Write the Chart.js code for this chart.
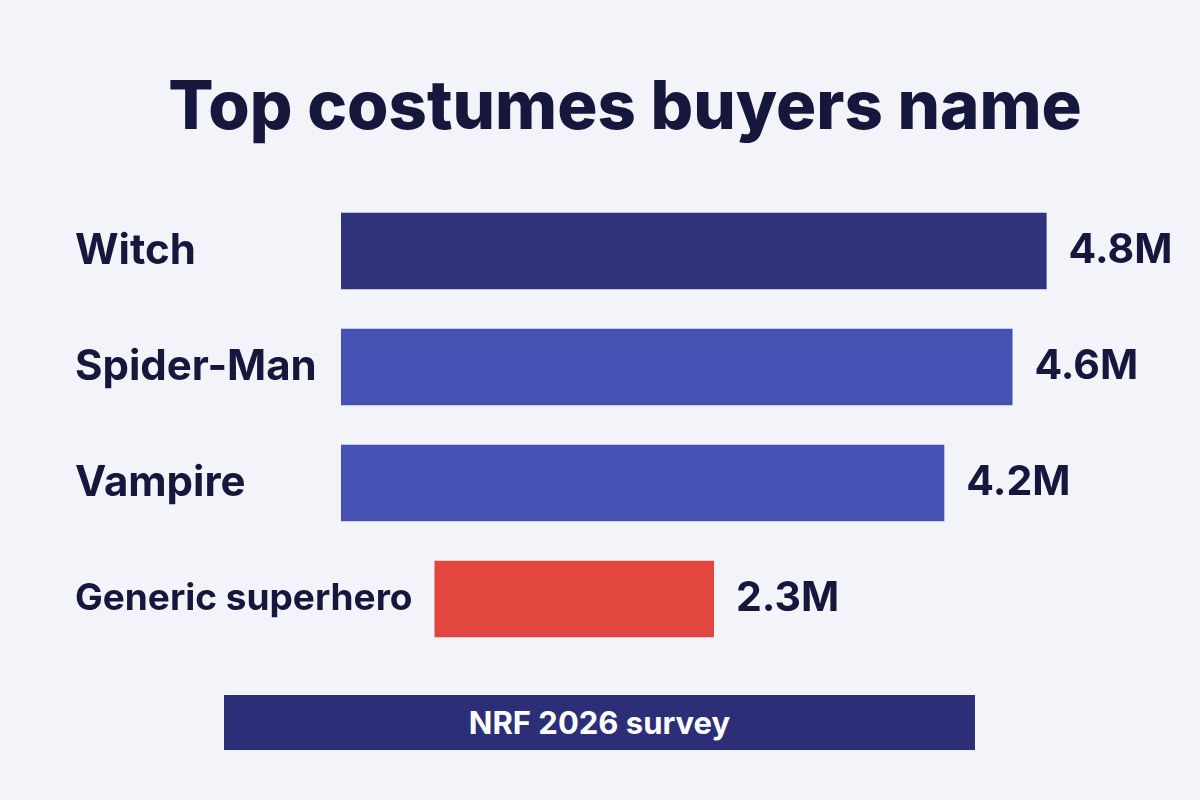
<!DOCTYPE html>
<html>
<head>
<meta charset="utf-8">
<script src="https://cdn.jsdelivr.net/npm/chart.js@4/dist/chart.umd.min.js"></script>
<style>
  html, body { margin: 0; padding: 0; background: #f3f4f9; }
  #wrap { position: relative; width: 1200px; height: 800px; }
  #title {
    position: absolute; left: 0; top: 0; width: 1250px; margin: 0;
    text-align: center; line-height: 1; padding-top: 64px;
    color: #15173d; font: 800 67px Inter, sans-serif;
  }
  #note {
    position: absolute; left: 224px; top: 695px; width: 751px; height: 55px;
    background: #2c2f77; color: #fff; font: 700 31px Inter, sans-serif;
    display: flex; align-items: center; justify-content: center;
  }
</style>
</head>
<body>
<div id="wrap">
  <canvas id="chart" width="1200" height="800"></canvas>
  <h1 id="title">Top costumes buyers name</h1>
  <div id="note">NRF 2026 survey</div>
</div>
<script>
const categories = ['Witch', 'Spider-Man', 'Vampire', 'Generic superhero'];
const buyers = [4.8, 4.6, 4.2, 2.3];          // millions
const barColors = ['#2f3379', '#4651b4', '#4651b4', '#e2463f'];

const AXIS_MIN = 0.66;
const AXIS_MAX = 5.70;
const INK = '#15173d';
const LABEL_X = 75;

function labelFont(i) {
  return i === 3 ? '700 37px Inter, sans-serif' : '700 42px Inter, sans-serif';
}

// category names on the left, value labels after each bar
const labelPlugin = {
  id: 'barLabels',
  afterDatasetsDraw(chart) {
    const { ctx } = chart;
    const meta = chart.getDatasetMeta(0);
    ctx.save();
    ctx.fillStyle = INK;
    ctx.textBaseline = 'middle';
    meta.data.forEach((bar, i) => {
      ctx.font = labelFont(i);
      ctx.textAlign = 'left';
      ctx.fillText(categories[i], LABEL_X, bar.y);
      ctx.font = '700 41px Inter, sans-serif';
      ctx.fillText(buyers[i] + 'M', bar.x + 22, bar.y);
    });
    ctx.restore();
  }
};

const chart = new Chart(document.getElementById('chart'), {
  type: 'bar',
  data: {
    labels: categories,
    datasets: [{
      data: buyers.map(v => [AXIS_MIN, v]),
      backgroundColor: barColors,
      borderWidth: 0,
      barPercentage: 0.66,
      categoryPercentage: 1
    }]
  },
  options: {
    indexAxis: 'y',
    responsive: false,
    animation: false,
    layout: { padding: { left: 341, right: 0, top: 193, bottom: 143 } },
    scales: {
      x: { display: false, min: AXIS_MIN, max: AXIS_MAX },
      y: { display: false }
    },
    plugins: {
      legend: { display: false },
      tooltip: { enabled: false }
    }
  },
  plugins: [labelPlugin]
});

// push a bar to the right when its name runs into it
const xs = chart.scales.x;
const mctx = chart.ctx;
const startPx = xs.getPixelForValue(AXIS_MIN);
chart.data.datasets[0].data = buyers.map((v, i) => {
  mctx.font = labelFont(i);
  const right = LABEL_X + mctx.measureText(categories[i]).width + 22;
  if (right <= startPx) return [AXIS_MIN, v];
  const shift = xs.getValueForPixel(right) - AXIS_MIN;
  return [AXIS_MIN + shift, v + shift];
});
chart.update('none');
</script>
</body>
</html>
